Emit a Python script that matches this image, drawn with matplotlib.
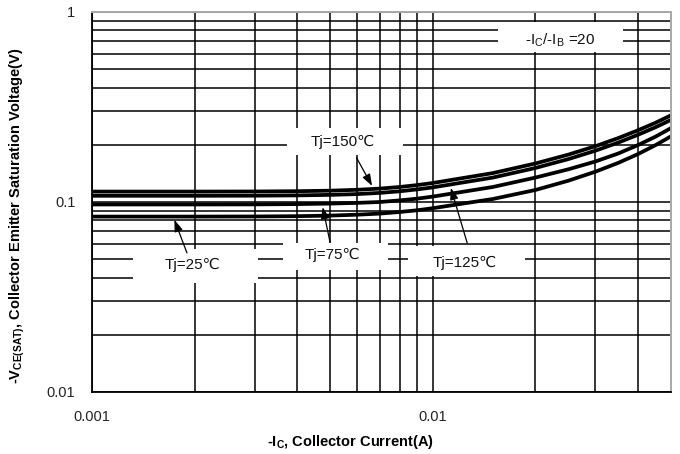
import numpy as np
import matplotlib
matplotlib.use('Agg')
import matplotlib.pyplot as plt
from matplotlib.patches import Rectangle
from matplotlib.ticker import FixedLocator, NullFormatter

plt.rcParams['font.family'] = ['Liberation Sans', 'DejaVu Sans']
plt.rcParams['mathtext.default'] = 'regular'

# collector current (A)
ic = [0.001, 0.002, 0.003, 0.004, 0.005, 0.006, 0.007, 0.008, 0.009,
      0.01, 0.015, 0.02, 0.025, 0.03, 0.035, 0.04, 0.045, 0.05]

# VCE(sat) (V)
v_150 = [0.11343, 0.11343, 0.11357, 0.11398, 0.11468, 0.11593, 0.11763, 0.11994, 0.12273,
         0.12589, 0.14194, 0.15945, 0.17761, 0.19665, 0.21693, 0.23844, 0.26112, 0.28597]
v_125 = [0.10780, 0.10780, 0.10793, 0.10833, 0.10899, 0.11005, 0.11166, 0.11385, 0.11650,
         0.11936, 0.13441, 0.15099, 0.16819, 0.18621, 0.20541, 0.22579, 0.24727, 0.27046]
v_75 = [0.09702, 0.09702, 0.09713, 0.09749, 0.09808, 0.09892, 0.10000, 0.10196, 0.10414,
        0.10676, 0.11994, 0.13441, 0.14863, 0.16337, 0.18000, 0.19928, 0.22064, 0.24488]
v_25 = [0.08378, 0.08378, 0.08389, 0.08419, 0.08480, 0.08573, 0.08689, 0.08859, 0.09043,
        0.09276, 0.10370, 0.11565, 0.12945, 0.14437, 0.16062, 0.17869, 0.19904, 0.22171]

curves = {'150': v_150, '125': v_125, '75': v_75, '25': v_25}

# label text, text position, white box (axes fraction), curve, arrow tail, arrow tip current
labels = [
    ('Tj=150\u2103', (0.4335, 0.658), (0.337, 0.624, 0.200, 0.071), '150', (0.457, 0.616), 0.00671),
    ('Tj=75\u2103', (0.416, 0.360), (0.330, 0.321, 0.181, 0.071), '75', (0.411, 0.395), 0.00473),
    ('Tj=25\u2103', (0.1744, 0.334), (0.0708, 0.288, 0.216, 0.087), '25', (0.164, 0.366), 0.00173),
    ('Tj=125\u2103', (0.644, 0.339), (0.546, 0.305, 0.202, 0.079), '125', (0.648, 0.392), 0.01122),
]

fig = plt.figure(figsize=(6.8, 4.54), dpi=100)
ax = fig.add_axes([0.1353, 0.1366, 0.8515, 0.8370])

for key, vals in curves.items():
    ax.plot(ic, vals, color='black', lw=2.7, zorder=2, solid_capstyle='butt')

ax.set_xscale('log')
ax.set_yscale('log')
ax.set_xlim(0.001, 0.05)
ax.set_ylim(0.01, 1)

ax.xaxis.set_major_locator(FixedLocator([0.001, 0.01]))
ax.set_xticklabels(['0.001', '0.01'])
ax.xaxis.set_minor_locator(FixedLocator([0.002, 0.003, 0.004, 0.005, 0.006, 0.007,
                                         0.008, 0.009, 0.02, 0.03, 0.04]))
ax.yaxis.set_major_locator(FixedLocator([0.01, 0.1, 1]))
ax.set_yticklabels(['0.01', '0.1', '1'])
ax.yaxis.set_minor_locator(FixedLocator([0.02, 0.03, 0.04, 0.05, 0.06, 0.07, 0.08, 0.09,
                                         0.2, 0.3, 0.4, 0.5, 0.6, 0.7, 0.8, 0.9]))
ax.xaxis.set_minor_formatter(NullFormatter())
ax.yaxis.set_minor_formatter(NullFormatter())
ax.tick_params(which='both', length=0, labelsize=10.5, labelcolor='#222222')
ax.tick_params(axis='x', pad=13)
ax.tick_params(axis='y', pad=12)

ax.set_axisbelow(True)
ax.grid(which='both', color='black', lw=1.1)

for side in ['left', 'bottom']:
    ax.spines[side].set_color('black')
    ax.spines[side].set_linewidth(1.3)
for side in ['top', 'right']:
    ax.spines[side].set_color('#a8a8a8')
    ax.spines[side].set_linewidth(1.4)

# white boxes that cut the grid behind the labels
ax.add_patch(Rectangle((0.701, 0.895), 0.216, 0.079, transform=ax.transAxes,
                       facecolor='white', edgecolor='none', zorder=1))
ax.text(0.808, 0.926, '-I$_C$/-I$_B$ =20', transform=ax.transAxes, fontsize=11,
        ha='center', va='center', color='#111111', zorder=3)

for text, pos, box, key, tail, x_tip in labels:
    ax.add_patch(Rectangle(box[:2], box[2], box[3], transform=ax.transAxes,
                           facecolor='white', edgecolor='none', zorder=1))
    ax.text(pos[0], pos[1], text, transform=ax.transAxes, fontsize=11,
            ha='center', va='center', color='#111111', zorder=3)
    y_tip = 10 ** np.interp(np.log10(x_tip), np.log10(ic), np.log10(curves[key]))
    ax.annotate('', xy=(x_tip, y_tip), xytext=tail, textcoords='axes fraction',
                arrowprops=dict(arrowstyle='-|>,head_length=0.7,head_width=0.25',
                                color='black', lw=0.9, shrinkA=0, shrinkB=2.5,
                                mutation_scale=10), zorder=3)

ax.set_xlabel('-I$_C$, Collector Current(A)', fontsize=10.5, fontweight='bold')
ax.set_ylabel('-V$_{CE(SAT)}$, Collector Emitter Saturation Voltage(V)',
              fontsize=10.5, fontweight='bold')
ax.xaxis.set_label_coords(0.446, -0.108)
ax.yaxis.set_label_coords(-0.112, 0.465)

fig.savefig('out.png', dpi=100)
